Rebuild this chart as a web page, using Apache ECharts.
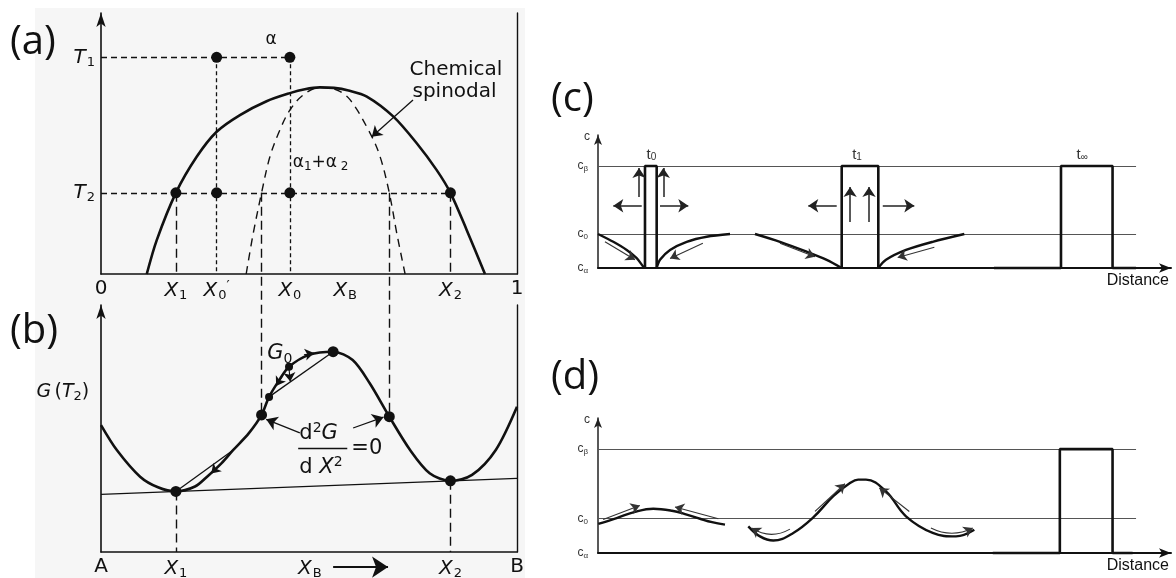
<!DOCTYPE html>
<html>
<head>
<meta charset="utf-8">
<script src="https://cdn.jsdelivr.net/npm/echarts@6/dist/echarts.min.js"></script>
<style>
  html, body { margin: 0; padding: 0; background: #fff; }
  #chart { width: 1176px; height: 578px; }
</style>
</head>
<body>
<div id="chart"></div>
<script>
// ---------- (a) phase diagram: composition X_B (0..1) against temperature ----------
const T1 = 0.83, T2 = 0.311;
const X1 = 0.18, X0p = 0.278, X0 = 0.454, X2 = 0.84;
const XS1 = 0.386, XS2 = 0.693;            // chemical spinodal at T2
const gapCurve = [
  [0.11, 0], [0.134, 0.13], [0.18, 0.311], [0.23, 0.449], [0.278, 0.545], [0.334, 0.609],
  [0.398, 0.662], [0.454, 0.693], [0.49, 0.708], [0.526, 0.715], [0.56, 0.713], [0.595, 0.703],
  [0.639, 0.68], [0.703, 0.603], [0.759, 0.501], [0.807, 0.398], [0.84, 0.311], [0.879, 0.169], [0.923, 0]
];
const spinodalCurve = [
  [0.349, 0], [0.366, 0.156], [0.386, 0.311], [0.406, 0.449], [0.43, 0.552], [0.454, 0.628],
  [0.486, 0.686], [0.526, 0.715], [0.567, 0.705], [0.599, 0.667], [0.647, 0.539],
  [0.671, 0.449], [0.693, 0.311], [0.711, 0.156], [0.731, 0]
];
const aTickValues = [0, X1, X0p, X0, 0.587, X2, 1];
const aTickMain   = ['0', 'X', 'X', 'X', 'X', 'X', '1'];
const aTickSub    = ['', '1', '0', '0', 'B', '2', ''];
const aTickPrime  = ['', '', '′', '', '', '', ''];
const tempTickValues = [T1, T2];
const tempTickSub    = ['1', '2'];

// ---------- (b) free energy G(T2) across the same composition range ----------
const freeEnergy = [
  [0, 0.514], [0.038, 0.413], [0.094, 0.305], [0.137, 0.262], [0.18, 0.245], [0.226, 0.265],
  [0.255, 0.305], [0.29, 0.36], [0.318, 0.413], [0.355, 0.48], [0.386, 0.555], [0.404, 0.628],
  [0.43, 0.7], [0.452, 0.75], [0.5, 0.798], [0.558, 0.811], [0.605, 0.777], [0.646, 0.683],
  [0.693, 0.548], [0.743, 0.413], [0.79, 0.319], [0.84, 0.288], [0.892, 0.312], [0.949, 0.413], [1, 0.588]
];
const commonTangent = [[0, 0.233], [1, 0.298]];
const gMinima = [[X1, 0.245], [X2, 0.288]];
const gInflections = [[XS1, 0.555], [XS2, 0.548]];
const gPeak = [0.558, 0.811];
const gSmallPoints = [[0.404, 0.628], [0.452, 0.75]];
const bTickValues = [0, X1, 0.502, X2, 1];
const bTickMain   = ['A', 'X', 'X', 'X', 'B'];
const bTickSub    = ['', '1', 'B', '2', ''];

// ---------- (c) nucleation and growth: concentration profiles along distance ----------
const C_ALPHA = 0, C_ZERO = 1, C_BETA = 3, LINE_END = 93.9;
const cTickValues = [C_ALPHA, C_ZERO, C_BETA];
const cTickSub    = ['α', '0', 'β'];
const t0Left   = [[0, 1], [2.67, 0.77], [5.01, 0.53], [6.75, 0.29], [7.9, 0.04], [8.2, 0]];
const t0Rect   = [[8.2, 0], [8.2, 3], [10.24, 3], [10.24, 0]];
const t0Right  = [[10.24, 0], [10.82, 0.24], [12.57, 0.53], [15.48, 0.77], [18.97, 0.92], [23.04, 1]];
const t1Left   = [[27.4, 1], [31.76, 0.77], [36.42, 0.48], [39.91, 0.24], [42.53, 0]];
const t1Rect   = [[42.53, 0], [42.53, 3], [48.92, 3], [48.92, 0]];
const t1Right  = [[48.92, 0], [50.26, 0.24], [53.75, 0.53], [58.41, 0.77], [63.93, 1]];
const tInfRect = [[69.1, 0], [80.8, 0], [80.8, 3], [89.8, 3], [89.8, 0], [93.9, 0]];
const cTimeLabels = [['t', '0', 9.4], ['t', '1', 45.3], ['t', '∞', 84.6]];

// ---------- (d) spinodal decomposition: growing composition waves ----------
const smallWave = [
  [0.05, 0.84], [3.26, 1.01], [6.46, 1.19], [9.65, 1.28], [12.91, 1.22], [15.48, 1.11],
  [17.8, 0.99], [19.9, 0.89], [22.16, 0.82]
];
const largeWave = [
  [26.23, 0.77], [28.27, 0.48], [30.6, 0.36], [34.08, 0.58], [37.57, 1.03], [41.06, 1.64],
  [43.98, 2.02], [45.4, 2.12], [46.77, 2.12], [50.26, 1.78], [53.75, 1.06], [58.41, 0.58],
  [62.48, 0.48], [65.67, 0.67]
];
const dFinalRect = [[68.9, 0], [80.6, 0], [80.6, 3], [89.8, 3], [89.8, 0], [93.3, 0]];

// ---------- layout ----------
const INK = '#111';
const SANS = 'DejaVu Sans';
const layout = {
  a: { left: 101, top: 13, width: 416, height: 261 },
  b: { left: 101, top: 305, width: 416, height: 247 },
  c: { left: 598, top: 135, width: 573, height: 133 },
  d: { left: 598, top: 418, width: 573, height: 135 }
};
const axisOf = { a: { x: 0, y: 0 }, b: { x: 1, y: 2 }, c: { x: 2, y: 4 }, d: { x: 3, y: 5 } };

function gridOf(k) {
  return Object.assign({ outerBoundsMode: 'none', containLabel: false }, layout[k]);
}

const richAB = {
  n: { fontSize: 20, fontFamily: SANS, color: INK },
  i: { fontSize: 20, fontFamily: SANS, fontStyle: 'italic', color: INK },
  s: { fontSize: 13, fontFamily: SANS, color: INK, padding: [10, 0, 0, 1] },
  p: { fontSize: 14, fontFamily: SANS, color: INK, padding: [0, 0, 9, 0] }
};
const richC = {
  c: { fontSize: 12, fontFamily: 'Liberation Sans', color: '#333' },
  s: { fontSize: 8, fontFamily: 'Liberation Sans', color: '#333', padding: [6, 0, 0, 0] }
};

function nearestIndex(values, v) {
  let k = 0, best = Infinity;
  values.forEach((t, j) => { const d = Math.abs(t - v); if (d < best) { best = d; k = j; } });
  return k;
}
function tickFormatter(values, mains, subs, primes) {
  return function (v) {
    const k = nearestIndex(values, v);
    const m = mains[k];
    const italic = (m === 'X' || m === 'T');
    let s = italic ? '{i|' + m + '}' : '{n|' + m + '}';
    if (subs[k]) s += '{s|' + subs[k] + '}';
    if (primes && primes[k]) s += '{p|' + primes[k] + '}';
    return s;
  };
}
function cFormatter(v) {
  return '{c|c}{s|' + cTickSub[nearestIndex(cTickValues, v)] + '}';
}

// ---------- series helpers ----------
function curve(p, data, opt) {
  opt = opt || {};
  return {
    type: 'line', xAxisIndex: axisOf[p].x, yAxisIndex: axisOf[p].y,
    data: data, symbol: 'none', smooth: opt.smooth == null ? 0.35 : opt.smooth,
    clip: false, silent: true, z: opt.z || 3, animation: false,
    lineStyle: { color: opt.color || INK, width: opt.width || 2.6, type: opt.dash || 'solid', opacity: 1 }
  };
}
function segs(p, list, opt) {
  opt = opt || {};
  return {
    type: 'lines', coordinateSystem: 'cartesian2d',
    xAxisIndex: axisOf[p].x, yAxisIndex: axisOf[p].y,
    polyline: false, clip: false, silent: true, z: opt.z || 4, animation: false,
    symbol: opt.arrow ? ['none', 'arrow'] : ['none', 'none'],
    symbolSize: opt.size || [6, 9],
    lineStyle: { color: opt.color || INK, width: opt.width || 1.3, type: opt.dash || 'solid', opacity: 1 },
    data: list.map(function (c) {
      const item = { coords: [c[0], c[1]] };
      if (c[2] != null) item.lineStyle = { curveness: c[2] };
      return item;
    })
  };
}
function dots(p, list, size) {
  return {
    type: 'scatter', xAxisIndex: axisOf[p].x, yAxisIndex: axisOf[p].y,
    data: list, symbol: 'circle', symbolSize: size, clip: false, silent: true, z: 6,
    itemStyle: { color: INK, opacity: 1 }, animation: false
  };
}
function note(p, pt, text, rich, align) {
  return {
    type: 'scatter', xAxisIndex: axisOf[p].x, yAxisIndex: axisOf[p].y,
    data: [pt], symbol: 'circle', symbolSize: 1, clip: false, silent: true, z: 7, animation: false,
    itemStyle: { color: 'rgba(0,0,0,0)' },
    label: {
      show: true, position: [0, 0], align: align || 'left', verticalAlign: 'middle',
      color: INK, opacity: 1, textBorderWidth: 0,
      formatter: text, rich: rich
    }
  };
}

// y (in panel-b units) of the T2 level of panel (a), so the spinodal guides run straight down
const pxT2 = layout.a.top + layout.a.height * (1 - T2);
const yT2inB = (layout.b.top + layout.b.height - pxT2) / layout.b.height;

const richNote = {
  a: { fontSize: 17, fontFamily: SANS, color: INK },
  as: { fontSize: 12, fontFamily: SANS, color: INK, padding: [9, 0, 0, 0] },
  w: { fontSize: 20, fontFamily: SANS, color: INK },
  g: { fontSize: 21, fontFamily: SANS, fontStyle: 'italic', color: INK },
  gs: { fontSize: 14, fontFamily: SANS, color: INK, padding: [10, 0, 0, 0] },
  d: { fontSize: 21, fontFamily: SANS, color: INK },
  ds: { fontSize: 14, fontFamily: SANS, color: INK, padding: [0, 0, 11, 0] },
  m: { fontSize: 19, fontFamily: SANS, color: INK },
  mi: { fontSize: 19, fontFamily: SANS, fontStyle: 'italic', color: INK },
  ms: { fontSize: 13, fontFamily: SANS, color: INK, padding: [9, 0, 0, 0] },
  t: { fontSize: 15, fontFamily: 'Liberation Sans', color: '#333' },
  ts: { fontSize: 10, fontFamily: 'Liberation Sans', color: '#333', padding: [6, 0, 0, 0] }
};

const series = [
  // ----- (a) -----
  curve('a', gapCurve, { width: 2.6, smooth: 0.3 }),
  curve('a', spinodalCurve, { width: 1.4, dash: [8, 6] }),
  segs('a', [[[0, T1], [X0, T1]], [[0, T2], [X2, T2]]], { dash: [6, 4], width: 1.3 }),
  segs('a', [[[X0p, T1], [X0p, 0]], [[X0, T1], [X0, 0]]], { dash: [4, 3], width: 1.3 }),
  segs('a', [[[X1, T2], [X1, 0]], [[X2, T2], [X2, 0]]], { dash: [9, 5], width: 1.4 }),
  segs('a', [[[0.75, 0.667], [0.651, 0.526]]], { arrow: true, size: [6, 10], width: 1.3 }),
  dots('a', [[X0p, T1], [X0, T1], [X1, T2], [X0p, T2], [X0, T2], [X2, T2]], 11),
  note('a', [0.41, 0.897], '{a|α}', richNote, 'center'),
  note('a', [0.462, 0.425], '{a|α}{as|1}{a|+}{a|α}{as| 2}', richNote),
  note('a', [0.743, 0.782], '{w|Chemical}', richNote),
  note('a', [0.75, 0.697], '{w|spinodal}', richNote),

  // ----- (b) -----
  curve('b', freeEnergy, { width: 2.6, smooth: 0.3 }),
  segs('b', [commonTangent, [gSmallPoints[0], gPeak], [[X1, 0.245], [0.318, 0.413]]], { width: 1.3 }),
  segs('b', [[[X1, 0.245], [X1, 0]], [[X2, 0.288], [X2, 0]],
             [[XS1, yT2inB], gInflections[0]], [[XS2, yT2inB], gInflections[1]]],
       { dash: [9, 5], width: 1.4 }),
  segs('b', [[[0.478, 0.482], [0.397, 0.537]], [[0.606, 0.502], [0.679, 0.546]]],
       { arrow: true, size: [7, 11], width: 1.3 }),
  segs('b', [[[0.488, 0.798], [0.512, 0.806]], [[0.437, 0.715], [0.421, 0.672]],
             [[0.452, 0.742], [0.455, 0.69]], [[0.29, 0.36], [0.265, 0.318]]],
       { arrow: true, size: [6, 9], width: 1.1 }),
  segs('b', [[[0.474, 0.421], [0.592, 0.421]]], { width: 1.4 }),
  segs('b', [[[0.558, -0.061], [0.69, -0.061]]], { arrow: true, size: [9, 16], width: 2 }),
  dots('b', [gMinima[0], gMinima[1], gInflections[0], gInflections[1], gPeak], 11),
  dots('b', gSmallPoints, 8),
  note('b', [-0.154, 0.644], '{mi|G} {m|(}{mi|T}{ms|2}{m|)}', richNote),
  note('b', [0.401, 0.8], '{g|G}{gs|0}', richNote),
  note('b', [0.478, 0.476], '{d|d}{ds|2}{g|G}', richNote),
  note('b', [0.478, 0.34], '{d|d }{g|X}{ds|2}', richNote),
  note('b', [0.603, 0.415], '{d|=0}', richNote),

  // ----- (c) -----
  segs('c', [[[0, C_BETA], [LINE_END, C_BETA]], [[0, C_ZERO], [LINE_END, C_ZERO]]],
       { color: '#555', width: 1.1, z: 2 }),
  curve('c', t0Left, { width: 2.4, smooth: 0.3 }),
  curve('c', t0Rect, { width: 2.6, smooth: false }),
  curve('c', t0Right, { width: 2.4, smooth: 0.3 }),
  curve('c', t1Left, { width: 2.4, smooth: 0.3 }),
  curve('c', t1Rect, { width: 2.6, smooth: false }),
  curve('c', t1Right, { width: 2.4, smooth: 0.3 }),
  curve('c', tInfRect, { width: 2.6, smooth: false }),
  segs('c', [[[7.16, 2.09], [7.16, 2.94]], [[11.4, 2.09], [11.4, 2.94]],
             [[7.63, 1.83], [2.67, 1.83]], [[10.82, 1.83], [15.76, 1.83]],
             [[44, 1.35], [44, 2.38]], [[47.3, 1.35], [47.3, 2.38]],
             [[41.66, 1.83], [36.7, 1.83]], [[49.7, 1.83], [55.2, 1.83]]],
       { arrow: true, size: [6, 10], width: 1.5, color: '#222' }),
  segs('c', [[[1.22, 0.77], [6.46, 0.24]], [[18.3, 0.73], [12.57, 0.28]],
             [[31.76, 0.73], [37.87, 0.33]], [[58.7, 0.61], [52.3, 0.31]]],
       { arrow: true, size: [5, 9], width: 1.1, color: '#333' }),
  ...cTimeLabels.map(function (t) {
    return note('c', [t[2], 3.32], '{t|' + t[0] + '}{ts|' + t[1] + '}', richNote, 'center');
  }),

  // ----- (d) -----
  segs('d', [[[0, C_BETA], [LINE_END, C_BETA]], [[0, C_ZERO], [LINE_END, C_ZERO]]],
       { color: '#555', width: 1.1, z: 2 }),
  curve('d', smallWave, { width: 2.4, smooth: 0.4 }),
  curve('d', largeWave, { width: 2.4, smooth: 0.4 }),
  curve('d', dFinalRect, { width: 2.6, smooth: false }),
  segs('d', [[[0.9, 0.97], [7.3, 1.37]], [[21, 0.99], [13.44, 1.33]],
             [[37.87, 1.2], [43.1, 2.0]], [[54.33, 1.2], [49.09, 1.88]],
             [[33.5, 0.69], [26.8, 0.72], 0.3], [[58.1, 0.72], [65.4, 0.72], -0.25]],
       { arrow: true, size: [5, 9], width: 1.1, color: '#333' })
];

const baseX = {
  type: 'value', min: 0, max: 1,
  axisLine: { show: true, lineStyle: { color: INK, width: 1.6 } },
  axisTick: { show: false }, splitLine: { show: false }
};
const distanceAxis = function (gridIndex) {
  return Object.assign({}, baseX, {
    gridIndex: gridIndex, max: 100, axisLabel: { show: false },
    axisLine: { show: true, symbol: ['none', 'arrow'], symbolSize: [7, 12], lineStyle: { color: INK, width: 2 } },
    name: 'Distance', nameLocation: 'end', nameGap: 0,
    nameTextStyle: { fontFamily: 'Liberation Sans', fontSize: 16, color: '#111', align: 'right', verticalAlign: 'top', padding: [5, 2, 0, 0] }
  });
};
const concAxis = function (gridIndex, max) {
  return {
    type: 'value', gridIndex: gridIndex, min: 0, max: max,
    axisLine: { show: true, symbol: ['none', 'arrow'], symbolSize: [6, 10], lineStyle: { color: '#222', width: 1.5 } },
    axisTick: { show: false }, splitLine: { show: false },
    axisLabel: { customValues: cTickValues, margin: 10, formatter: cFormatter, rich: richC },
    name: 'c', nameLocation: 'end', nameGap: -2,
    nameTextStyle: { fontFamily: 'Liberation Sans', fontSize: 12, color: '#333', align: 'right', verticalAlign: 'middle', padding: [0, 8, 0, 0] }
  };
};

const option = {
  animation: false,
  backgroundColor: '#ffffff',
  grid: [gridOf('a'), gridOf('b'), gridOf('c'), gridOf('d')],
  xAxis: [
    Object.assign({}, baseX, {
      gridIndex: 0,
      axisLabel: {
        customValues: aTickValues, margin: 5, hideOverlap: false,
        formatter: tickFormatter(aTickValues, aTickMain, aTickSub, aTickPrime), rich: richAB
      }
    }),
    Object.assign({}, baseX, {
      gridIndex: 1,
      axisLabel: {
        customValues: bTickValues, margin: 5, hideOverlap: false,
        formatter: tickFormatter(bTickValues, bTickMain, bTickSub), rich: richAB
      }
    }),
    distanceAxis(2),
    distanceAxis(3)
  ],
  yAxis: [
    {
      type: 'value', gridIndex: 0, min: 0, max: 1,
      axisLine: { show: true, symbol: ['none', 'arrow'], symbolSize: [7, 14], lineStyle: { color: INK, width: 1.6 } },
      axisTick: { show: false }, splitLine: { show: false },
      axisLabel: {
        customValues: tempTickValues, margin: 6,
        formatter: function (v) { return '{i|T}{s|' + tempTickSub[nearestIndex(tempTickValues, v)] + '}'; },
        rich: richAB
      }
    },
    {
      type: 'value', gridIndex: 0, min: 0, max: 1, position: 'right',
      axisLine: { show: true, lineStyle: { color: INK, width: 1.4 } },
      axisTick: { show: false }, splitLine: { show: false }, axisLabel: { show: false }
    },
    {
      type: 'value', gridIndex: 1, min: 0, max: 1,
      axisLine: { show: true, symbol: ['none', 'arrow'], symbolSize: [7, 14], lineStyle: { color: INK, width: 1.6 } },
      axisTick: { show: false }, splitLine: { show: false }, axisLabel: { show: false }
    },
    {
      type: 'value', gridIndex: 1, min: 0, max: 1, position: 'right',
      axisLine: { show: true, lineStyle: { color: INK, width: 1.4 } },
      axisTick: { show: false }, splitLine: { show: false }, axisLabel: { show: false }
    },
    concAxis(2, 3.91),
    concAxis(3, 3.9)
  ],
  graphic: [
    { type: 'rect', z: -10, silent: true, shape: { x: 35, y: 8, width: 490, height: 570 }, style: { fill: '#f6f6f6' } },
    { type: 'text', x: 10, y: 43, silent: true, style: { text: '(a)', fontSize: 40, fontFamily: 'Open Sans', fill: INK, verticalAlign: 'middle' } },
    { type: 'text', x: 10, y: 332, silent: true, style: { text: '(b)', fontSize: 40, fontFamily: 'Open Sans', fill: INK, verticalAlign: 'middle' } },
    { type: 'text', x: 551, y: 100, silent: true, style: { text: '(c)', fontSize: 40, fontFamily: 'Open Sans', fill: INK, verticalAlign: 'middle' } },
    { type: 'text', x: 551, y: 378, silent: true, style: { text: '(d)', fontSize: 40, fontFamily: 'Open Sans', fill: INK, verticalAlign: 'middle' } }
  ],
  series: series
};

const chart = echarts.init(document.getElementById('chart'));
chart.setOption(option);
</script>
</body>
</html>
